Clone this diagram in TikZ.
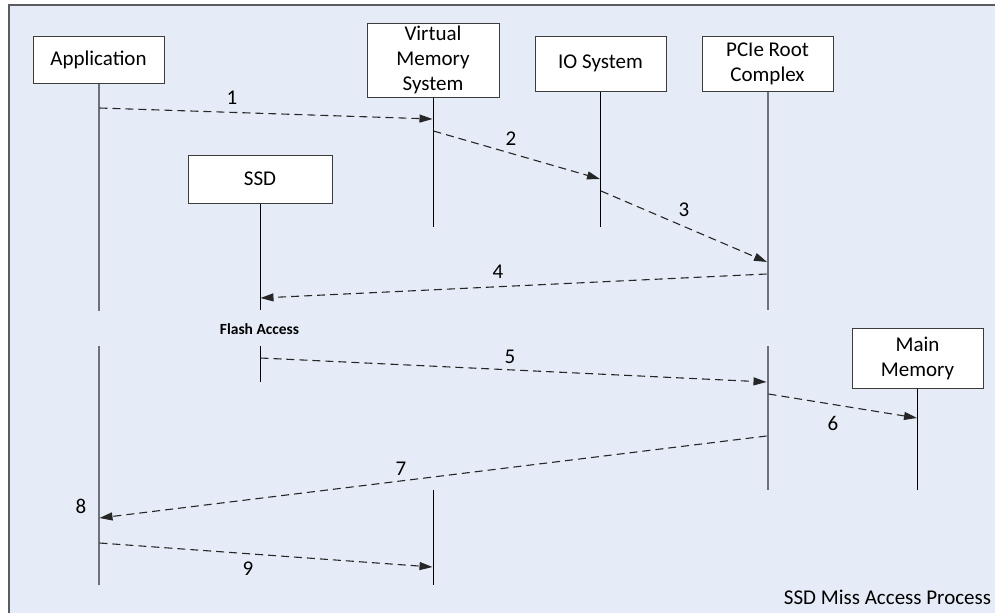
\documentclass[tikz,border=0pt]{standalone}
\usepackage{fontspec}
\setmainfont{Carlito}
\usetikzlibrary{arrows.meta}
\definecolor{panelbg}{HTML}{E6ECF7}
\definecolor{framegray}{HTML}{5A5C60}
\definecolor{lifegray}{HTML}{6E7178}
\definecolor{boxline}{HTML}{3C3C3C}
\tikzset{
  actor/.style={draw=boxline, line width=1pt, fill=white, align=center,
    inner sep=0pt, font=\fontsize{21}{25}\selectfont},
  lifeA/.style={draw=lifegray, line width=2pt},
  lifeB/.style={draw=black, line width=1pt},
  msg/.style={draw=black!85, line width=1.1pt, dash pattern=on 8pt off 5pt,
    -{Triangle[length=13pt,width=8pt]}},
  num/.style={font=\fontsize{21}{24}\selectfont, inner sep=0pt},
}
\begin{document}
\begin{tikzpicture}[x=1pt,y=-1pt]
\useasboundingbox (0,0) rectangle (995,613);
\fill[panelbg] (9,5) rectangle (995,613);
\draw[framegray, line width=2pt] (9,613) -- (9,5) -- (995,5);

% participants
\node[actor, minimum width=131pt, minimum height=47pt] (app) at (98.5,59.5) {Application};
\node[actor, minimum width=132pt, minimum height=74pt] (vms) at (433,60) {Virtual\\Memory\\System};
\node[actor, minimum width=131pt, minimum height=55pt] (io) at (600.5,63.5) {IO System};
\node[actor, minimum width=131pt, minimum height=55pt] (pcie) at (767.5,63.5) {PCIe Root\\Complex};
\node[actor, minimum width=144pt, minimum height=48pt] (ssd) at (260,179) {SSD};
\node[actor, minimum width=131pt, minimum height=60pt] (mem) at (917.5,358) {Main\\Memory};

% lifeline ends
\coordinate (appE1) at (98.5,311);
\coordinate (appS2) at (98.5,346);
\coordinate (appE2) at (98.5,585);
\coordinate (vmsE1) at (433,227);
\coordinate (vmsS2) at (433,490);
\coordinate (vmsE2) at (433,585);
\coordinate (ioE1) at (600.5,227);
\coordinate (pcieE1) at (767.5,310);
\coordinate (pcieS2) at (767.5,346);
\coordinate (pcieE2) at (767.5,490);
\coordinate (ssdE1) at (260,310);
\coordinate (ssdS2) at (260,346);
\coordinate (ssdE2) at (260,382);
\coordinate (memE1) at (917.5,490);

% lifelines
\draw[lifeA] (app.south) -- (appE1);
\draw[lifeA] (appS2) -- (appE2);
\draw[lifeB] (vms.south) -- (vmsE1);
\draw[lifeB] (vmsS2) -- (vmsE2);
\draw[lifeB] (io.south) -- (ioE1);
\draw[lifeA] (pcie.south) -- (pcieE1);
\draw[lifeA] (pcieS2) -- (pcieE2);
\draw[lifeB] (ssd.south) -- (ssdE1);
\draw[lifeB] (ssdS2) -- (ssdE2);
\draw[lifeB] (mem.south) -- (memE1);

% message points on the lifelines
\coordinate (m1a) at (99.5,108);  \coordinate (m1b) at (432.5,119);
\coordinate (m2a) at (433.5,131); \coordinate (m2b) at (600,179);
\coordinate (m3a) at (601,191);   \coordinate (m3b) at (767,262);
\coordinate (m4a) at (766.5,274); \coordinate (m4b) at (260.5,298);
\coordinate (m5a) at (260.5,358); \coordinate (m5b) at (766.5,382);
\coordinate (m6a) at (768.5,394); \coordinate (m6b) at (917,418);
\coordinate (m7a) at (766.5,436); \coordinate (m7b) at (99.5,518);
\coordinate (m9a) at (99.5,543);  \coordinate (m9b) at (432.5,567);

% messages
\draw[msg] (m1a) -- (m1b);
\draw[msg] (m2a) -- (m2b);
\draw[msg] (m3a) -- (m3b);
\draw[msg] (m4a) -- (m4b);
\draw[msg] (m5a) -- (m5b);
\draw[msg] (m6a) -- (m6b);
\draw[msg] (m7a) -- (m7b);
\draw[msg] (m9a) -- (m9b);

% step numbers
\node[num] (n1) at (232,98) {1};
\node[num] (n2) at (511,139) {2};
\node[num] (n3) at (684,210) {3};
\node[num] (n4) at (498,272) {4};
\node[num] (n5) at (510,357) {5};
\node[num] (n6) at (833,423) {6};
\node[num] (n7) at (401,469) {7};
\node[num] (n8) at (81,506) {8};
\node[num] (n9) at (248,569) {9};

\node[font=\fontsize{15.5}{18}\selectfont\bfseries, inner sep=0pt] (flash) at (259.5,329) {Flash Access};
\node[font=\fontsize{21}{24}\selectfont, inner sep=0pt] (title) at (887.5,597) {SSD Miss Access Process};
\end{tikzpicture}
\end{document}
